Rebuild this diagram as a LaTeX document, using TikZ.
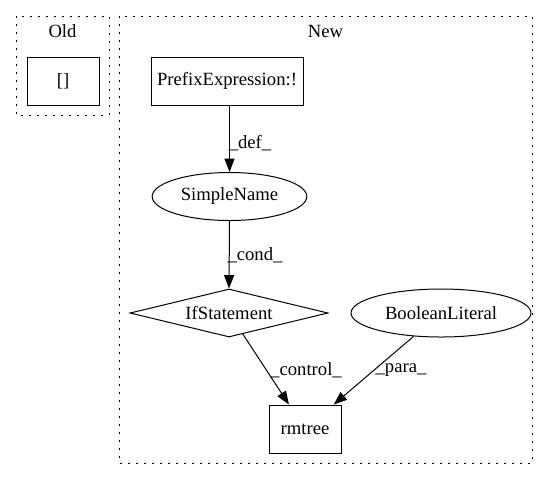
\documentclass[tikz,border=0pt]{standalone}
\usepackage{fontspec}
\setmainfont{Liberation Serif}
\usetikzlibrary{shapes.geometric,arrows.meta}
\begin{document}
\begin{tikzpicture}[x=0.75pt,y=-0.75pt,
  every node/.style={font=\fontsize{14}{16}\selectfont, inner sep=0pt},
  box/.style={draw, line width=0.75pt, rectangle, minimum height=36pt},
  oval/.style={draw, line width=0.75pt, ellipse, minimum height=36pt},
  cluster/.style={draw, line width=0.75pt, dash pattern=on 1.5pt off 4.5pt},
  edge/.style={draw, line width=0.75pt, -{Triangle[length=10pt,width=7.5pt]}},
  lbl/.style={}]
\useasboundingbox (0,0) rectangle (548,480);
% clusters
\draw[cluster] (16,16) rectangle (109,115);
\node[lbl] (oldlbl) at (62.5,31) {Old};
\draw[cluster] (119,16) rectangle (532,463);
\node[lbl] (newlbl) at (325.5,31) {New};
% nodes
\node[box, minimum width=54pt] (old) at (63,81) {[]};
\node[box, minimum width=114pt] (prefix) at (227,81) {PrefixExpression:!};
\node[oval, minimum width=116pt] (simple) at (229.5,196.5) {SimpleName};
\node[diamond, draw, line width=0.75pt, minimum width=148.5pt, minimum height=36pt, inner sep=0pt, shape aspect=4.125] (ifst) at (229,313) {};
\node (ifsttext) at (229,313) {IfStatement};
\node[oval, minimum width=135pt] (bool) at (441,313) {BooleanLiteral};
\node[box, minimum width=54pt] (rm) at (305,429) {rmtree};
% edges
\draw[edge] (prefix.south -| simple.north) -- (simple.north);
\draw[edge] (simple.south) -- (ifst.north);
\draw[edge] (ifst) -- (rm);
\draw[edge] (bool) -- (rm);
% edge labels
\node (ldef) at (250,143) {\_def\_};
\node (lcond) at (255,255) {\_cond\_};
\node (lcontrol) at (306,370) {\_control\_};
\node (lpara) at (401,370) {\_para\_};
\end{tikzpicture}
\end{document}
